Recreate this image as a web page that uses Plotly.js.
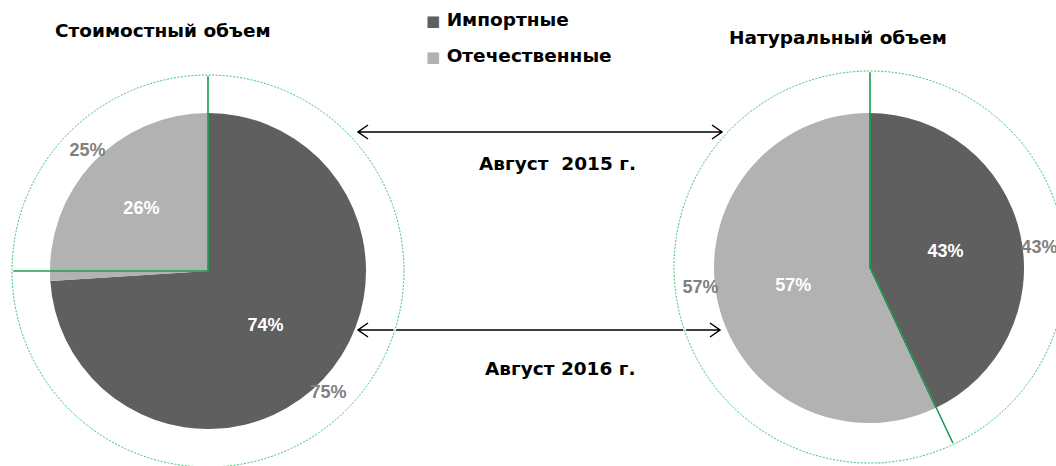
<!DOCTYPE html>
<html>
<head>
<meta charset="utf-8">
<script src="https://cdn.plot.ly/plotly-3.0.1.min.js"></script>
<style>
html,body{margin:0;padding:0;background:#fff;overflow:hidden;width:1056px;height:466px;}
#chart{width:1072px;height:476px;}
</style>
</head>
<body>
<div id="chart"></div>
<script>
// ---- data ----
const categories = ["Импортные", "Отечественные"];
const valueAug2015 = [75, 25];      // Стоимостный объем, август 2015 (outer ring)
const valueAug2016 = [74, 26];      // Стоимостный объем, август 2016 (inner pie)
const naturalAug2015 = [43, 57];    // Натуральный объем, август 2015 (outer ring)
const naturalAug2016 = [43, 57];    // Натуральный объем, август 2016 (inner pie)
const chartTitles = ["Стоимостный объем", "Натуральный объем"];
const periodLabels = ["Август  2015 г.", "Август 2016 г."];

// ---- layout helpers ----
const W = 1072, H = 476;
const sliceColors = ["#5f5f5f", "#b2b2b2"];
const green = "#1f9e55";
const dotGreen = "#3cbf74";
function dom(cx, cy, r) {
  return {x: [(cx - r) / W, (cx + r) / W], y: [(H - cy - r) / H, (H - cy + r) / H]};
}
function px(x) { return x / W; }
function py(y) { return 1 - y / H; }

const base = {type: "pie", labels: categories, sort: false, direction: "clockwise", rotation: 0,
  hoverinfo: "label+percent", showlegend: false};

function innerPie(vals, d) {
  return Object.assign({}, base, {values: vals, domain: d,
    marker: {colors: sliceColors, line: {width: 0}},
    textinfo: "percent", textposition: "inside", insidetextorientation: "horizontal",
    textfont: {color: "#ffffff", size: 18, weight: "bold", family: "Liberation Sans, Arial, sans-serif"}});
}
function outerLines(vals, d) {
  return Object.assign({}, base, {values: vals, domain: d,
    marker: {colors: ["rgba(0,0,0,0)", "rgba(0,0,0,0)"], line: {width: 1.2, color: green}},
    textinfo: "none", hoverinfo: "skip"});
}
function outerLabels(vals, d, rot) {
  return Object.assign({}, base, {values: vals, domain: d, hole: 0.74, rotation: rot,
    marker: {colors: ["rgba(0,0,0,0)", "rgba(0,0,0,0)"], line: {width: 0}},
    textinfo: "percent", textposition: "inside", insidetextorientation: "horizontal", hoverinfo: "skip",
    textfont: {color: "#808080", size: 18, weight: "bold", family: "Liberation Sans, Arial, sans-serif"}});
}

const dLin = dom(208, 271, 158), dLout = dom(208, 271, 196);
const dRin = dom(869, 268, 155), dRout = dom(870, 267, 196);

const data = [
  innerPie(valueAug2016, dLin), outerLines(valueAug2015, dLout), outerLabels(valueAug2015, dLout, 0),
  innerPie(naturalAug2016, dRin), outerLines(naturalAug2015, dRout), outerLabels(naturalAug2015, dRout, 6)
];

const boldFont = {family: "DejaVu Sans, Verdana, sans-serif", size: 18.5, color: "#000000", weight: "bold"};

function arrowPath(x1, x2, y) {
  const h = 10, v = 7;
  return "M" + px(x1) + "," + py(y) + " L" + px(x2) + "," + py(y) +
    " M" + px(x1 + h) + "," + py(y - v) + " L" + px(x1) + "," + py(y) + " L" + px(x1 + h) + "," + py(y + v) +
    " M" + px(x2 - h) + "," + py(y - v) + " L" + px(x2) + "," + py(y) + " L" + px(x2 - h) + "," + py(y + v);
}
function ringOutline(d) {
  return [
    {type: "circle", xref: "paper", yref: "paper", x0: d.x[0], x1: d.x[1], y0: d.y[0], y1: d.y[1],
     line: {color: "#ffffff", width: 2.5}, layer: "above"},
    {type: "circle", xref: "paper", yref: "paper", x0: d.x[0], x1: d.x[1], y0: d.y[0], y1: d.y[1],
     line: {color: dotGreen, width: 1, dash: "2px,1.5px"}, layer: "above"}
  ];
}
function ann(text, x, y, anchor) {
  return {text: text, x: px(x), y: py(y), xref: "paper", yref: "paper", showarrow: false,
    font: boldFont, xanchor: anchor, yanchor: "middle"};
}
function legendText(i) {
  return '<span style="color:' + sliceColors[i] + ';font-size:15px">■</span> <b>' + categories[i] + "</b>";
}

const layout = {
  width: W, height: H,
  margin: {l: 0, r: 0, t: 0, b: 0},
  paper_bgcolor: "#ffffff",
  showlegend: false,
  annotations: [
    ann("<b>" + chartTitles[0] + "</b>", 163, 31, "center"),
    ann("<b>" + chartTitles[1] + "</b>", 838, 38, "center"),
    ann("<b>" + periodLabels[0] + "</b>", 557, 163, "center"),
    ann("<b>" + periodLabels[1] + "</b>", 560, 368, "center"),
    ann(legendText(0), 424, 20, "left"),
    ann(legendText(1), 424, 55, "left")
  ],
  shapes: [
    {type: "path", xref: "paper", yref: "paper", path: arrowPath(358, 722, 132), line: {color: "#000000", width: 1.5}},
    {type: "path", xref: "paper", yref: "paper", path: arrowPath(358, 720, 330), line: {color: "#000000", width: 1.5}}
  ].concat(ringOutline(dLout), ringOutline(dRout))
};

Plotly.newPlot("chart", data, layout, {displayModeBar: false, staticPlot: true});
</script>
</body>
</html>
